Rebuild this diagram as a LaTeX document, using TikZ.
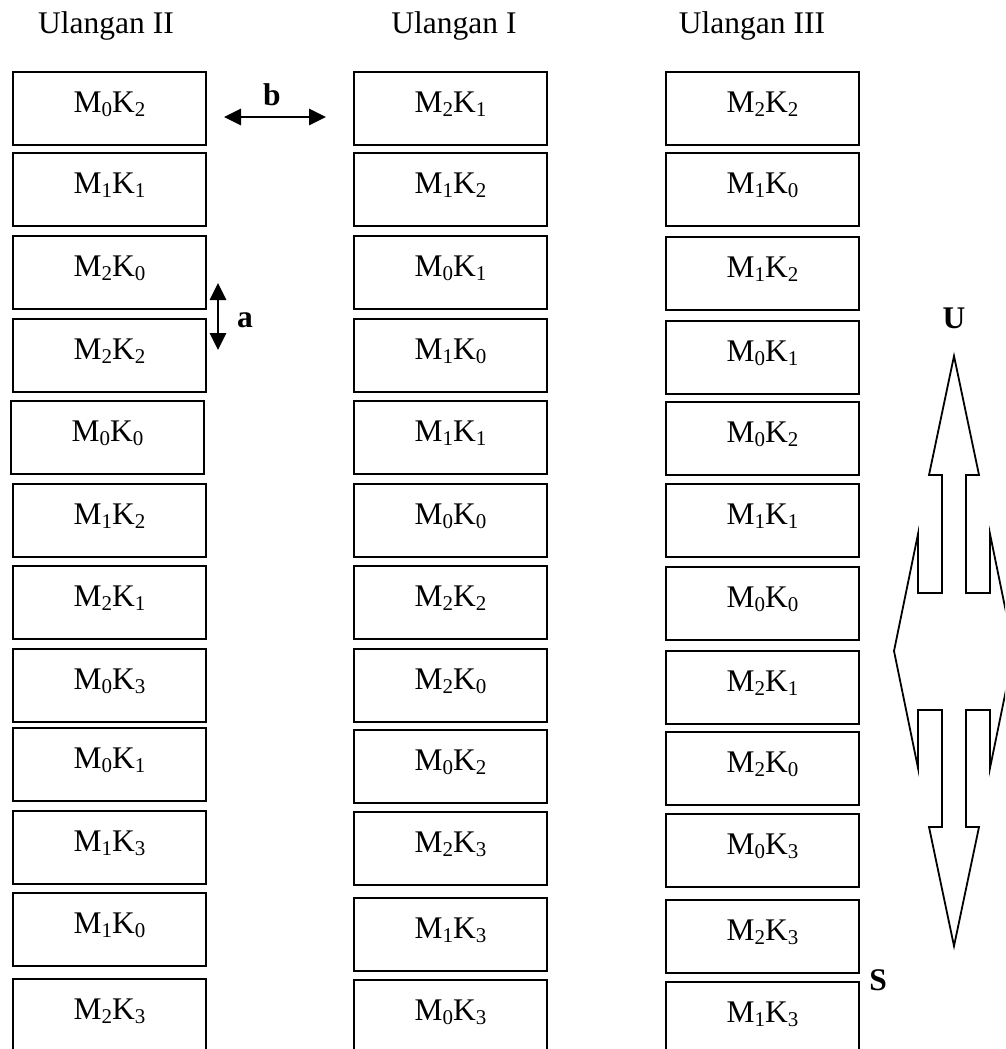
\documentclass[tikz,border=0pt]{standalone}
\usepackage{fontspec}
\setmainfont{Liberation Serif}
\usetikzlibrary{arrows.meta}
\newcommand{\mysb}[1]{\raisebox{-4pt}{\fontsize{21}{21}\selectfont #1}}
\newcommand{\MK}[2]{M\mysb{#1}K\mysb{#2}}
\begin{document}
\begin{tikzpicture}[x=1pt,y=-1pt,
  plotbox/.style={draw, line width=1.8pt, minimum width=193pt, minimum height=73pt,
    inner sep=0pt, text height=40.5pt, text depth=32.5pt, anchor=north west,
    font=\fontsize{31.5}{36}\selectfont},
  title/.style={anchor=base, inner sep=0pt, font=\fontsize{31.5}{36}\selectfont},
  lbl/.style={anchor=base, inner sep=0pt, font=\fontsize{31.5}{36}\selectfont\bfseries},
  dbl/.style={line width=2.8pt, {Triangle[length=17pt,width=16pt]}-{Triangle[length=17pt,width=16pt]}},
  compass/.style={line width=1.8pt, line join=miter}]
\useasboundingbox (0,0) rectangle (1005,1049);
\clip (0,0) rectangle (1005,1049);
\fill[white] (0,0) rectangle (1005,1049);

% titles
\node[title] (t2) at (106,34) {Ulangan II};
\node[title] (t1) at (454,34) {Ulangan I};
\node[title] (t3) at (752,34) {Ulangan III};

% column Ulangan II
\foreach \t/\x/\i/\j [count=\n] in {71/12/0/2, 152/12/1/1, 235/12/2/0, 318/12/2/2, 400/10/0/0, 483/12/1/2,
    565/12/2/1, 648/12/0/3, 727/12/0/1, 810/12/1/3, 892/12/1/0, 978/12/2/3}
  \node[plotbox] (a\n) at (\x,\t) {\MK{\i}{\j}};

% column Ulangan I
\foreach \t/\i/\j [count=\n] in {71/2/1, 152/1/2, 235/0/1, 318/1/0, 400/1/1, 483/0/0,
    565/2/2, 648/2/0, 729/0/2, 811/2/3, 897/1/3, 979/0/3}
  \node[plotbox] (b\n) at (353,\t) {\MK{\i}{\j}};

% column Ulangan III
\foreach \t/\i/\j [count=\n] in {71/2/2, 152/1/0, 236/1/2, 320/0/1, 401/0/2, 483/1/1,
    566/0/0, 650/2/1, 731/2/0, 813/0/3, 899/2/3, 981/1/3}
  \node[plotbox] (c\n) at (665,\t) {\MK{\i}{\j}};

% spacing arrows
\coordinate (bL) at (224,117);
\coordinate (bR) at (326,117);
\draw[dbl] (bL) -- (bR);
\node[lbl] (lb) at (272,105) {b};

\coordinate (aT) at (218,283);
\coordinate (aB) at (218,350);
\draw[dbl] (aT) -- (aB);
\node[lbl] (la) at (245,327) {a};

% compass
\node[lbl] (U) at (954,328) {U};
\node[lbl] (S) at (878,990) {S};
\draw[compass] (954,356) -- (979,475) -- (966,475) -- (966,593) -- (990,593) -- (990,534)
  -- (1014,651) -- (990,768) -- (990,710) -- (966,710) -- (966,827) -- (979,827)
  -- (954,946) -- (929,827) -- (942,827) -- (942,710) -- (918,710) -- (918,768)
  -- (894,651) -- (918,534) -- (918,593) -- (942,593) -- (942,475) -- (929,475) -- cycle;
\end{tikzpicture}
\end{document}
